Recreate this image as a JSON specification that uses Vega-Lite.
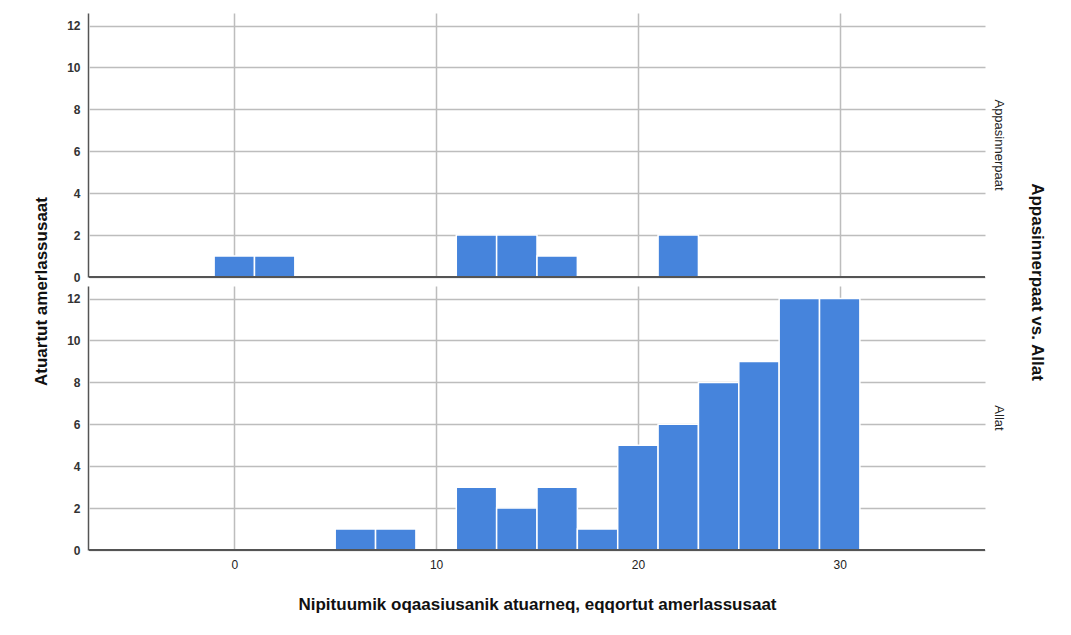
{
  "$schema": "https://vega.github.io/schema/vega-lite/v6.json",
  "padding": {"left": 32, "top": 13, "right": 10, "bottom": 10},
  "background": "white",
  "title": {
    "text": "Atuartut amerlassusaat",
    "orient": "left",
    "anchor": "middle",
    "font": "Liberation Sans",
    "fontSize": 17,
    "fontWeight": "bold",
    "color": "#111",
    "offset": 16,
    "dx": 21
  },
  "data": {
    "values": [
      {"group": "Appasinnerpaat", "start": -1, "end": 1, "count": 1},
      {"group": "Appasinnerpaat", "start": 1, "end": 3, "count": 1},
      {"group": "Appasinnerpaat", "start": 11, "end": 13, "count": 2},
      {"group": "Appasinnerpaat", "start": 13, "end": 15, "count": 2},
      {"group": "Appasinnerpaat", "start": 15, "end": 17, "count": 1},
      {"group": "Appasinnerpaat", "start": 21, "end": 23, "count": 2},
      {"group": "Allat", "start": 5, "end": 7, "count": 1},
      {"group": "Allat", "start": 7, "end": 9, "count": 1},
      {"group": "Allat", "start": 11, "end": 13, "count": 3},
      {"group": "Allat", "start": 13, "end": 15, "count": 2},
      {"group": "Allat", "start": 15, "end": 17, "count": 3},
      {"group": "Allat", "start": 17, "end": 19, "count": 1},
      {"group": "Allat", "start": 19, "end": 21, "count": 5},
      {"group": "Allat", "start": 21, "end": 23, "count": 6},
      {"group": "Allat", "start": 23, "end": 25, "count": 8},
      {"group": "Allat", "start": 25, "end": 27, "count": 9},
      {"group": "Allat", "start": 27, "end": 29, "count": 12},
      {"group": "Allat", "start": 29, "end": 31, "count": 12}
    ]
  },
  "facet": {
    "row": {
      "field": "group",
      "type": "nominal",
      "sort": ["Appasinnerpaat", "Allat"],
      "title": "Appasinnerpaat vs. Allat",
      "header": {
        "labelOrient": "right",
        "labelAngle": 90,
        "labelFont": "Liberation Sans",
        "labelFontSize": 13,
        "labelColor": "#222",
        "labelPadding": 6,
        "titleOrient": "right",
        "titleAngle": 90,
        "titleFont": "Liberation Sans",
        "titleFontSize": 17,
        "titleFontWeight": "bold",
        "titleColor": "#111",
        "titlePadding": 13
      }
    }
  },
  "spacing": {"row": 8},
  "spec": {
    "width": 896,
    "height": 264,
    "layer": [
      {
        "mark": {"type": "bar", "orient": "vertical", "fill": "#4684DC", "stroke": "white", "strokeWidth": 1.5},
        "encoding": {
          "x": {
            "field": "start",
            "type": "quantitative",
            "scale": {"domain": [-7.2, 37.2], "nice": false, "zero": false, "padding": 0},
            "axis": {
              "values": [0, 10, 20, 30],
              "title": "Nipituumik oqaasiusanik atuarneq, eqqortut amerlassusaat",
              "titleFont": "Liberation Sans",
              "titleFontSize": 17,
              "titleFontWeight": "bold",
              "titleColor": "#111",
              "titlePadding": 26,
              "labelFont": "Liberation Sans",
              "labelFontSize": 12,
              "labelColor": "#222",
              "labelPadding": 8,
              "ticks": false,
              "domain": false,
              "grid": true,
              "gridColor": "#bdbdbd",
              "gridWidth": 1.5
            }
          },
          "x2": {"field": "end"},
          "y": {
            "field": "count",
            "type": "quantitative",
            "scale": {"domain": [0, 12.6], "nice": false, "padding": 0},
            "axis": {
              "values": [0, 2, 4, 6, 8, 10, 12],
              "title": null,
              "labelFont": "Liberation Sans",
              "labelFontSize": 12,
              "labelFontWeight": "bold",
              "labelColor": "#333",
              "labelPadding": 8,
              "ticks": false,
              "domain": true,
              "domainColor": "#555",
              "domainWidth": 1.5,
              "grid": true,
              "gridColor": "#bdbdbd",
              "gridWidth": 1.5
            }
          },
          "y2": {"datum": 0}
        }
      },
      {
        "mark": {"type": "rule", "color": "#555", "strokeWidth": 1.5},
        "encoding": {"y": {"datum": 0}}
      }
    ]
  },
  "config": {
    "view": {"stroke": null},
    "font": "Liberation Sans"
  }
}
